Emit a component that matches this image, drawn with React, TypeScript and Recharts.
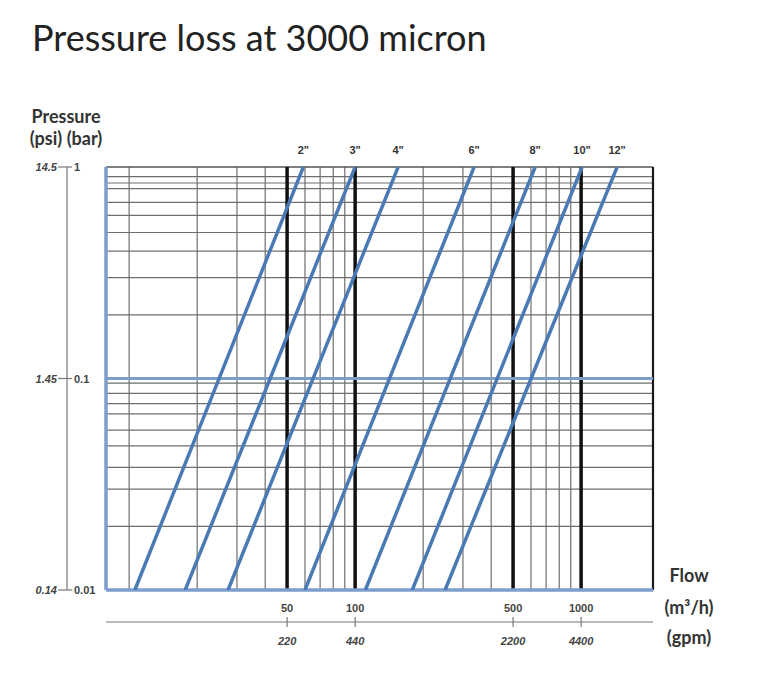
import { Line, LineChart, ReferenceLine, XAxis, YAxis } from "recharts";

// pipe sizes and the flow (m3/h) read where each line meets 0.01 bar and 1 bar
const sizeLabels = ['2"', '3"', '4"', '6"', '8"', '10"', '12"'];
const flowAtLow = [10.6, 17.7, 27.4, 60, 111, 179, 250];
const flowAtHigh = [59, 100, 155, 336, 626, 1010, 1443];
const pressureLow = 0.01;
const pressureHigh = 1;

const flowTicks = [50, 100, 500, 1000];
const gpmLabels = ["220", "440", "2200", "4400"];
const barTicks = [0.01, 0.1, 1];
const barLabels = ["0.01", "0.1", "1"];
const psiLabels = ["0.14", "1.45", "14.5"];

const flowGrid = [10, 20, 30, 40, 60, 70, 80, 90, 200, 300, 400, 600, 700, 800, 900];
const pressureGrid = [
  0.02, 0.03, 0.038, 0.048, 0.057, 0.068, 0.076, 0.085, 0.095,
  0.2, 0.3, 0.4, 0.49, 0.59, 0.68, 0.79, 0.84, 0.9,
];

const X_DOMAIN: [number, number] = [7.9, 2080];
const Y_DOMAIN: [number, number] = [0.01, 1];
// the gpm rule sits a little under the plot, drawn on the pressure scale
const GPM_RULE = 0.00706;

const BLUE = "#4a7ab4";
const PALE_BLUE = "#7d9ecb";
const GRID = "#6e6e6e";
const TEXT = "#333";
const SMALL_FONT = '"Liberation Sans", Arial, sans-serif';

const series = sizeLabels.map((size, i) => ({
  size,
  data: [
    { flow: flowAtLow[i], bar: pressureLow },
    { flow: flowAtHigh[i], bar: pressureHigh },
  ],
}));

const FlowTick = (props: any) => {
  const { x, y, payload } = props;
  const gpm = gpmLabels[flowTicks.indexOf(payload.value)];
  return (
    <g>
      <text x={x} y={y + 22} textAnchor="middle" fontSize={11} fontWeight="bold" fill="#444" fontFamily={SMALL_FONT}>
        {payload.value}
      </text>
      <line x1={x} x2={x} y1={y + 27} y2={y + 37} stroke="#777" strokeWidth={1.2} />
      <text x={x} y={y + 55} textAnchor="middle" fontSize={11} fontWeight="bold" fontStyle="italic" fill="#444" fontFamily={SMALL_FONT}>
        {gpm}
      </text>
    </g>
  );
};

const BarTick = (props: any) => {
  const { x, y, payload } = props;
  const label = barLabels[barTicks.indexOf(payload.value)];
  return (
    <g>
      <line x1={x - 39} x2={x - 34} y1={y} y2={y} stroke="#777" strokeWidth={1.2} />
      <text x={x - 32} y={y + 4} textAnchor="start" fontSize={11} fontWeight="bold" fill="#444" fontFamily={SMALL_FONT}>
        {label}
      </text>
    </g>
  );
};

const PsiTick = (props: any) => {
  const { x, y, payload } = props;
  const label = psiLabels[barTicks.indexOf(payload.value)];
  return (
    <g>
      <line x1={x - 9} x2={x} y1={y} y2={y} stroke="#777" strokeWidth={1.2} />
      <text x={x - 10} y={y + 4} textAnchor="end" fontSize={11} fontWeight="bold" fontStyle="italic" fill="#444" fontFamily={SMALL_FONT}>
        {label}
      </text>
    </g>
  );
};

const sizeLabel = (size: string) => (p: any) => {
  if (p.index !== 1) return <g />;
  return (
    <text x={p.x} y={p.y - 13} textAnchor="middle" fontSize={11} fontWeight="bold" fill={TEXT} fontFamily={SMALL_FONT}>
      {size}
    </text>
  );
};

const boldLabel = { position: "absolute" as const, fontWeight: 700, fontSize: 18, color: TEXT, textAlign: "center" as const, lineHeight: "18px" };

export default function App() {
  return (
    <div style={{ position: "absolute", left: 0, top: 0, width: 770, height: 686, background: "#fff", fontFamily: "Lato, 'Open Sans', sans-serif" }}>
      <div style={{ position: "absolute", left: 32, top: 19, fontSize: 36, lineHeight: "36px", color: "#222" }}>
        Pressure loss at 3000 micron
      </div>
      <div style={{ ...boldLabel, left: 16, width: 100, top: 107 }}>Pressure</div>
      <div style={{ ...boldLabel, left: 16, width: 100, top: 129 }}>(psi) (bar)</div>
      <div style={{ ...boldLabel, left: 639, width: 100, top: 566 }}>Flow</div>
      <div style={{ ...boldLabel, left: 639, width: 100, top: 598 }}>(m³/h)</div>
      <div style={{ ...boldLabel, left: 639, width: 100, top: 628 }}>(gpm)</div>

      <div style={{ position: "absolute", left: 0, top: 0 }}>
        <LineChart width={770} height={686} margin={{ top: 167, right: 117, bottom: 24, left: 6 }}>
          <XAxis
            xAxisId="m3" dataKey="flow" type="number" scale="log" domain={X_DOMAIN} allowDataOverflow
            ticks={flowTicks} interval={0} height={72} axisLine={false} tickLine={false}
            tickSize={0} tickMargin={0} tick={<FlowTick />}
          />
          <YAxis
            yAxisId="bar" dataKey="bar" type="number" scale="log" domain={Y_DOMAIN} allowDataOverflow
            ticks={barTicks} interval={0} width={39} axisLine={false} tickLine={false}
            tickSize={0} tickMargin={0} tick={<BarTick />}
          />
          <YAxis
            yAxisId="psi" type="number" scale="log" domain={Y_DOMAIN} allowDataOverflow
            ticks={barTicks} interval={0} width={61} axisLine={{ stroke: "#777", strokeWidth: 1.2 }}
            tickLine={false} tickSize={0} tickMargin={0} tick={<PsiTick />}
          />

          {pressureGrid.map(v => (
            <ReferenceLine key={`h${v}`} y={v} xAxisId="m3" yAxisId="bar" stroke={GRID} strokeWidth={1.2} />
          ))}
          {flowGrid.map(v => (
            <ReferenceLine key={`v${v}`} x={v} xAxisId="m3" yAxisId="bar" stroke={GRID} strokeWidth={1.2} />
          ))}
          <ReferenceLine y={1} xAxisId="m3" yAxisId="bar" stroke="#555" strokeWidth={1.6} />
          <ReferenceLine x={X_DOMAIN[1]} xAxisId="m3" yAxisId="bar" stroke="#1a1a1a" strokeWidth={2.2} />
          {flowTicks.map(v => (
            <ReferenceLine key={`b${v}`} x={v} xAxisId="m3" yAxisId="bar" stroke="#111" strokeWidth={3.5} />
          ))}
          <ReferenceLine y={0.1} xAxisId="m3" yAxisId="bar" stroke={PALE_BLUE} strokeWidth={3} />
          <ReferenceLine y={0.01} xAxisId="m3" yAxisId="bar" stroke={PALE_BLUE} strokeWidth={3.5} />
          <ReferenceLine x={X_DOMAIN[0]} xAxisId="m3" yAxisId="bar" stroke={PALE_BLUE} strokeWidth={3.5} />
          <ReferenceLine y={GPM_RULE} xAxisId="m3" yAxisId="bar" ifOverflow="visible" stroke="#777" strokeWidth={1.2} />

          {series.map(s => (
            <Line
              key={s.size} data={s.data} dataKey="bar" xAxisId="m3" yAxisId="bar"
              stroke={BLUE} strokeWidth={3.5} dot={false} activeDot={false}
              isAnimationActive={false} label={sizeLabel(s.size)}
            />
          ))}
        </LineChart>
      </div>
    </div>
  );
}
